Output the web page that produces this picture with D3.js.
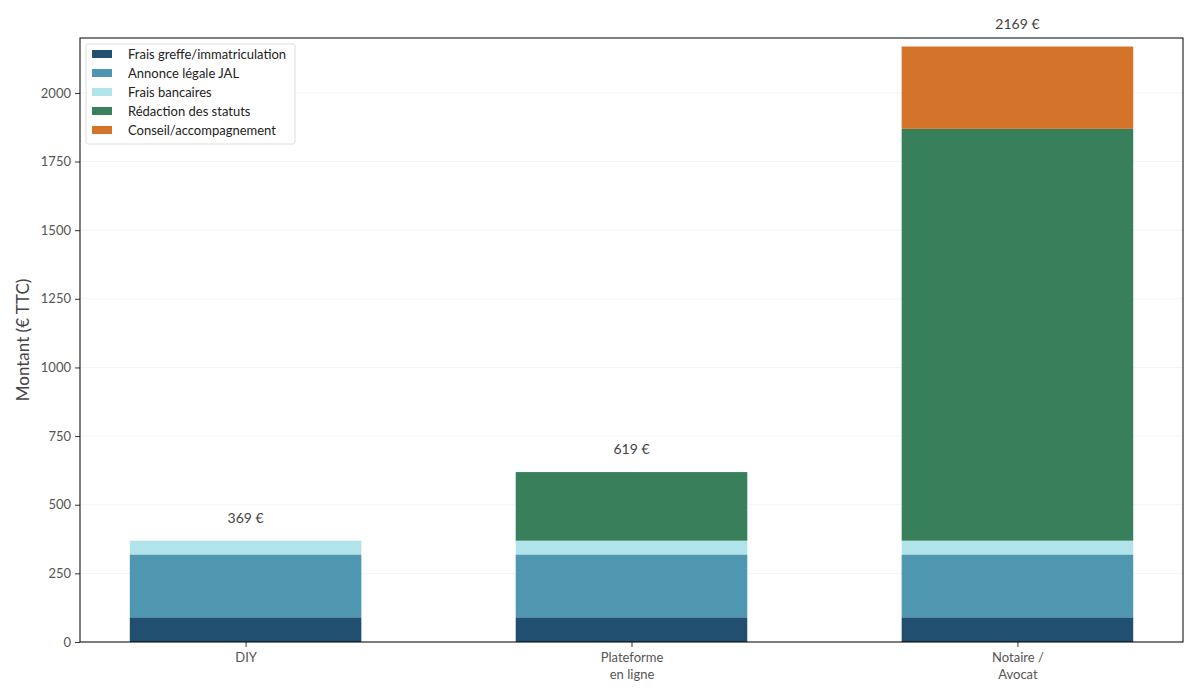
<!DOCTYPE html>
<html>
<head>
<meta charset="utf-8">
<script src="https://cdn.jsdelivr.net/npm/d3@7"></script>
<style>
  body { margin: 0; background: #fff; }
  text { font-family: Lato, "Open Sans", sans-serif; }
</style>
</head>
<body>
<div id="chart"></div>
<script>
const categories = [["DIY"], ["Plateforme", "en ligne"], ["Notaire /", "Avocat"]];
const seriesNames = ["Frais greffe/immatriculation", "Annonce légale JAL", "Frais bancaires", "Rédaction des statuts", "Conseil/accompagnement"];
const colors = ["#214f70", "#4f97b0", "#b1e4ea", "#38805b", "#d4742a"];
const greffe = [90, 90, 90];
const annonce = [229, 229, 229];
const bancaires = [50, 50, 50];
const redaction = [0, 250, 1500];
const conseil = [0, 0, 300];
const yTicks = [0, 250, 500, 750, 1000, 1250, 1500, 1750, 2000];

const width = 1200, height = 700;
const margin = {top: 38, right: 17, bottom: 58, left: 80};
const innerW = width - margin.left - margin.right;
const innerH = height - margin.top - margin.bottom;

const svg = d3.select('#chart').append('svg')
  .attr('width', width)
  .attr('height', height);

const plot = svg.append('g')
  .attr('transform', `translate(${margin.left}, ${margin.top})`);

const rows = categories.map((c, i) => ({
  i: i,
  s0: greffe[i], s1: annonce[i], s2: bancaires[i], s3: redaction[i], s4: conseil[i]
}));
const keys = ['s0', 's1', 's2', 's3', 's4'];
const stacked = d3.stack().keys(keys)(rows);
const totals = rows.map(r => keys.reduce((a, k) => a + r[k], 0));

const x = d3.scaleLinear()
  .domain([-0.429, categories.length - 1 + 0.429])
  .range([0, innerW]);
const y = d3.scaleLinear()
  .domain([0, 2200])
  .range([innerH, 0]);
const barW = x(0.6) - x(0);

// grid
plot.append('g')
  .selectAll('line')
  .data(yTicks)
  .join('line')
    .attr('x1', 0)
    .attr('x2', innerW)
    .attr('y1', d => y(d))
    .attr('y2', d => y(d))
    .attr('stroke', '#f4f4f4')
    .attr('stroke-width', 1);

// bars
plot.append('g')
  .selectAll('g')
  .data(stacked)
  .join('g')
    .attr('fill', (d, i) => colors[i])
  .selectAll('rect')
  .data(d => d.filter(p => p[1] - p[0] > 0))
  .join('rect')
    .attr('x', d => x(d.data.i) - barW / 2)
    .attr('y', d => y(d[1]))
    .attr('width', barW)
    .attr('height', d => y(d[0]) - y(d[1]));

// totals
plot.append('g')
  .selectAll('text')
  .data(totals)
  .join('text')
    .attr('x', (d, i) => x(i))
    .attr('y', d => y(d) - 18)
    .attr('text-anchor', 'middle')
    .attr('font-size', 14)
    .attr('fill', '#444')
    .text(d => `${d} €`);

// axes
const yAxis = d3.axisLeft(y).tickValues(yTicks).tickSize(5).tickPadding(4).tickFormat(d3.format('d'));
const yg = plot.append('g').call(yAxis);
yg.select('.domain').remove();
yg.selectAll('line').attr('stroke', '#333');
yg.selectAll('text').attr('font-size', 13).attr('fill', '#555');

const xAxis = d3.axisBottom(x).tickValues(d3.range(categories.length)).tickSize(5).tickFormat('');
const xg = plot.append('g')
  .attr('transform', `translate(0, ${innerH})`)
  .call(xAxis);
xg.select('.domain').remove();
xg.selectAll('line').attr('stroke', '#333');
xg.selectAll('.tick').each(function(d) {
  const t = d3.select(this).append('text')
    .attr('y', 20)
    .attr('text-anchor', 'middle')
    .attr('font-size', 13)
    .attr('fill', '#555');
  categories[d].forEach((line, k) => {
    t.append('tspan').attr('x', 0).attr('dy', k === 0 ? 0 : 17).text(line);
  });
});

// frame
plot.append('rect')
  .attr('width', innerW)
  .attr('height', innerH)
  .attr('fill', 'none')
  .attr('stroke', '#000')
  .attr('stroke-width', 1);

svg.append('text')
  .attr('transform', 'rotate(-90)')
  .attr('x', -(margin.top + innerH / 2))
  .attr('y', 29)
  .attr('text-anchor', 'middle')
  .attr('font-size', 17)
  .attr('fill', '#444')
  .text('Montant (€ TTC)');

// legend
const legend = plot.append('g').attr('transform', 'translate(6, 6)');
legend.append('rect')
  .attr('width', 209)
  .attr('height', 100)
  .attr('rx', 2)
  .attr('fill', '#fff')
  .attr('fill-opacity', 0.8)
  .attr('stroke', '#ddd');
const items = legend.selectAll('g.item')
  .data(seriesNames)
  .join('g')
    .attr('class', 'item')
    .attr('transform', (d, i) => `translate(6, ${10 + i * 19})`);
items.append('rect')
  .attr('width', 20)
  .attr('height', 8)
  .attr('y', -4)
  .attr('fill', (d, i) => colors[i]);
items.append('text')
  .attr('x', 36)
  .attr('dy', '0.35em')
  .attr('font-size', 13)
  .attr('fill', '#222')
  .text(d => d);
</script>
</body>
</html>
